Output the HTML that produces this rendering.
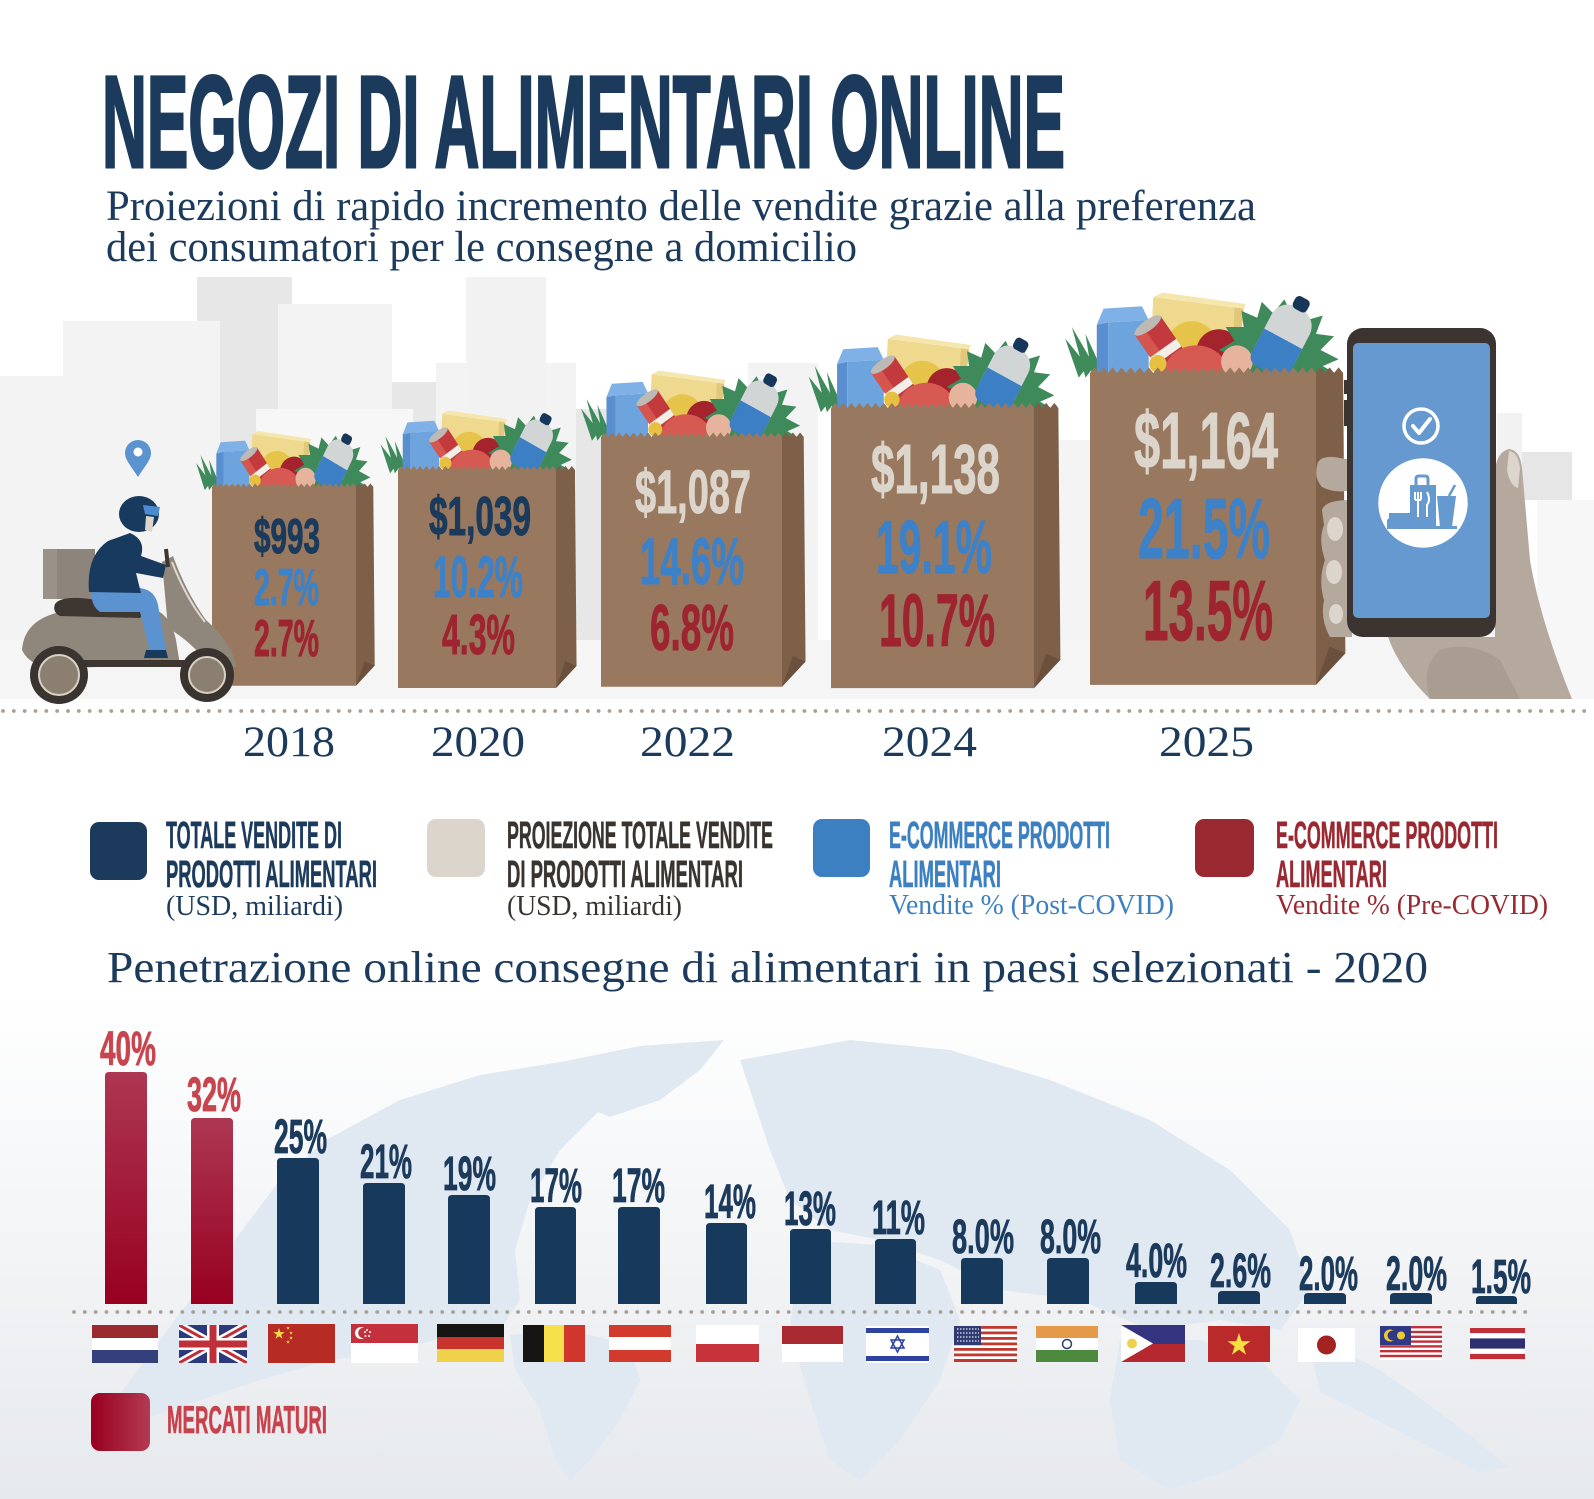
<!DOCTYPE html>
<html><head><meta charset="utf-8"><title>Negozi di alimentari online</title>
<style>
html,body{margin:0;padding:0;background:#fff;}
body{width:1594px;height:1499px;overflow:hidden;}
svg{display:block;}
.c{font-family:"Liberation Sans Narrow","Liberation Sans",Arial,sans-serif;font-weight:bold;}
.s{font-family:"Liberation Serif","Times New Roman",serif;}
</style></head>
<body>
<svg width="1594" height="1499" viewBox="0 0 1594 1499" xmlns="http://www.w3.org/2000/svg">
<defs>
  <linearGradient id="bg2" x1="0" y1="0" x2="0" y2="1">
    <stop offset="0" stop-color="#ffffff"/>
    <stop offset="1" stop-color="#e6e9ed"/>
  </linearGradient>
  <linearGradient id="redbar" x1="0" y1="0" x2="0" y2="1">
    <stop offset="0" stop-color="#ad3752"/>
    <stop offset="1" stop-color="#980020"/>
  </linearGradient>
  <linearGradient id="redbox" x1="0" y1="0" x2="1" y2="0">
    <stop offset="0" stop-color="#98001f"/>
    <stop offset="1" stop-color="#b33a52"/>
  </linearGradient>
  <polygon id="star" points="0,-1 0.2245,-0.309 0.951,-0.309 0.363,0.118 0.588,0.809 0,0.382 -0.588,0.809 -0.363,0.118 -0.951,-0.309 -0.2245,-0.309"/>
  <clipPath id="ukclip"><rect x="179" y="1325" width="68" height="38"/></clipPath>
  <g id="groc">
    <path fill="#3f8a5b" d="M-5 2 L-11 -15 L-1 -3 Z M-2 2 L-8 -20 L2 -3 Z M1 2 L-2 -17 L5 -2 Z M3 2 L4 -12 L7 0 Z"/>
    <path fill="#5a8fcf" d="M3 2 L3 -21 L8 -22 L8 2 Z"/>
    <path fill="#6ea4de" d="M8 -22 L26 -23 L26 2 L8 2 Z"/>
    <path fill="#7fb0e6" d="M3 -21 L6 -28 L23 -29 L26 -23 L8 -22 Z"/>
    <path fill="#eed98f" d="M28 -33 L68 -28 L66 -8 L27 -12 Z"/>
    <path fill="#e0c77a" d="M64 -28.5 L68 -28 L66 -8 L63 -8 Z"/>
    <path fill="#f5e6ad" d="M28 -33 L32 -35 L69 -30 L68 -28 Z"/>
    <circle cx="45" cy="-11" r="11.5" fill="#e6c44a"/>
    <circle cx="57" cy="-9" r="10" fill="#a5232d"/>
    <path fill="#3f8a5b" d="M60 2 L62 -8 L57 -10 L64 -14 L60 -20 L68 -20 L67 -27 L74 -24 L76 -31 L81 -26 L86 -32 L89 -26 L95 -30 L96 -23 L103 -25 L100 -17 L108 -16 L102 -10 L110 -6 L103 -3 L112 2 Z"/>
    <g transform="translate(33,-10) rotate(-35)">
      <rect x="-7" y="-13" width="14" height="24" fill="#c33a3e"/>
      <rect x="-7" y="-13" width="5" height="24" fill="#d4564f"/>
      <rect x="-7" y="-1" width="14" height="4" fill="#f2efe9"/>
      <ellipse cx="0" cy="-13" rx="7" ry="2.3" fill="#bdbab5"/>
    </g>
    <ellipse cx="47" cy="0" rx="14" ry="12" fill="#d65a52"/>
    <circle cx="65" cy="-5" r="7" fill="#e6b49c"/>
    <circle cx="30" cy="-4" r="3.8" fill="#e6c040"/>
    <g transform="translate(85,-14) rotate(28)">
      <rect x="-9.5" y="-16" width="19" height="31" rx="8" fill="#d2d5d6"/>
      <path d="M-9.5 -1 H9.5 V10 Q9.5 15 5 15 H-5 Q-9.5 15 -9.5 10 Z" fill="#3d7fc4"/>
      <rect x="-3.5" y="-21" width="7" height="6" rx="2" fill="#17375a"/>
    </g>
  </g>
  <g id="bag">
    <path fill="#98785e" d="M0 0 l2-2.5 2 2.5 2-2.5 2 2.5 2-2.5 2 2.5 2-2.5 2 2.5 2-2.5 2 2.5 2-2.5 2 2.5 2-2.5 2 2.5 2-2.5 2 2.5 2-2.5 2 2.5 2-2.5 2 2.5 2-2.5 2 2.5 2-2.5 2 2.5 2-2.5 2 2.5 2-2.5 2 2.5 2-2.5 2 2.5 2-2.5 2 2.5 2-2.5 2 2.5 2-2.5 2 2.5 2-2.5 2 2.5 2-2.5 2 2.5 2-2.5 2 2.5 2-2.5 2 2.5 2-2.5 2 2.5 2-2.5 2 2.5 2-2.5 2 2.5 V138 H0 Z"/>
    <path fill="#7e6049" d="M100 0 l2-2.5 2 2.5 2-2.5 2 2.5 2-2.5 2 2.5 L113 124 L100 138 Z"/>
    <path fill="#6a503d" d="M100 138 L106 121 L113 124 Z"/>
  </g>
</defs>

<!-- ===== TOP BACKGROUND ===== -->
<rect x="0" y="0" width="1594" height="990" fill="#ffffff"/>
<g>
  <rect x="197" y="277" width="95" height="422" fill="#e7e7e7"/>
  <rect x="392" y="382" width="44" height="317" fill="#e7e7e7"/>
  <rect x="576" y="409" width="30" height="290" fill="#e7e7e7"/>
  <rect x="1522" y="452" width="50" height="48" fill="#e6e6e6"/>
  <rect x="0" y="376" width="138" height="323" fill="#f3f3f3"/>
  <rect x="63" y="321" width="157" height="378" fill="#f3f3f3"/>
  <rect x="278" y="304" width="114" height="395" fill="#f3f3f3"/>
  <rect x="436" y="363" width="140" height="336" fill="#f3f3f3"/>
  <rect x="466" y="277" width="80" height="422" fill="#f2f2f2"/>
  <rect x="748" y="363" width="70" height="336" fill="#f3f3f3"/>
  <rect x="1058" y="440" width="34" height="259" fill="#f4f4f4"/>
  <rect x="1497" y="413" width="25" height="286" fill="#f2f2f2"/>
  <rect x="256" y="409" width="157" height="290" fill="#f7f7f7"/>
  <rect x="1340" y="600" width="254" height="99" fill="#f6f6f6"/>
  <rect x="1537" y="500" width="57" height="199" fill="#f7f7f7"/>
  <rect x="0" y="640" width="1540" height="59" fill="#f5f5f5"/>
</g>

<!-- ===== TITLE ===== -->
<text class="c" x="102" y="167" font-size="131" fill="#1b3a5c" stroke="#1b3a5c" stroke-width="3" textLength="963" lengthAdjust="spacingAndGlyphs">NEGOZI DI ALIMENTARI ONLINE</text>
<text class="s" x="106" y="220" font-size="43" fill="#1b3a5c" textLength="1150" lengthAdjust="spacingAndGlyphs">Proiezioni di rapido incremento delle vendite grazie alla preferenza</text>
<text class="s" x="106" y="261" font-size="43" fill="#1b3a5c" textLength="751" lengthAdjust="spacingAndGlyphs">dei consumatori per le consegne a domicilio</text>

<!-- ===== GROCERIES + BAGS ===== -->
<use href="#groc" transform="translate(212,487) scale(1.44,1.6)"/>
<use href="#bag" transform="translate(212,487) scale(1.44)"/>
<use href="#groc" transform="translate(398,470) scale(1.58,1.7)"/>
<use href="#bag" transform="translate(398,470) scale(1.58)"/>
<use href="#groc" transform="translate(601,437) scale(1.81,1.9)"/>
<use href="#bag" transform="translate(601,437) scale(1.81)"/>
<use href="#groc" transform="translate(831,408) scale(2.03,2.1)"/>
<use href="#bag" transform="translate(831,408) scale(2.03)"/>
<use href="#groc" transform="translate(1090,373) scale(2.26,2.3)"/>
<use href="#bag" transform="translate(1090,373) scale(2.26)"/>

<!-- bag texts -->
<g class="c" stroke-width="1">
  <text x="254" y="553" font-size="49" fill="#1b3a5c" stroke="#1b3a5c" textLength="66" lengthAdjust="spacingAndGlyphs">$993</text>
  <text x="254" y="605" font-size="52" fill="#3d82c8" stroke="#3d82c8" textLength="65" lengthAdjust="spacingAndGlyphs">2.7%</text>
  <text x="254" y="656" font-size="52" fill="#9e2530" stroke="#9e2530" textLength="65" lengthAdjust="spacingAndGlyphs">2.7%</text>

  <text x="429" y="535" font-size="55" fill="#1b3a5c" stroke="#1b3a5c" textLength="102" lengthAdjust="spacingAndGlyphs">$1,039</text>
  <text x="433" y="597" font-size="58" fill="#3d82c8" stroke="#3d82c8" textLength="90" lengthAdjust="spacingAndGlyphs">10.2%</text>
  <text x="442" y="654" font-size="57" fill="#9e2530" stroke="#9e2530" textLength="73" lengthAdjust="spacingAndGlyphs">4.3%</text>

  <text x="635" y="513" font-size="61" fill="#dcd5cb" stroke="#dcd5cb" textLength="116" lengthAdjust="spacingAndGlyphs">$1,087</text>
  <text x="640" y="584" font-size="66" fill="#3d82c8" stroke="#3d82c8" textLength="104" lengthAdjust="spacingAndGlyphs">14.6%</text>
  <text x="650" y="650" font-size="65" fill="#9e2530" stroke="#9e2530" textLength="84" lengthAdjust="spacingAndGlyphs">6.8%</text>

  <text x="871" y="493" font-size="70" fill="#dcd5cb" stroke="#dcd5cb" textLength="129" lengthAdjust="spacingAndGlyphs">$1,138</text>
  <text x="876" y="573" font-size="75" fill="#3d82c8" stroke="#3d82c8" textLength="116" lengthAdjust="spacingAndGlyphs">19.1%</text>
  <text x="879" y="646" font-size="74" fill="#9e2530" stroke="#9e2530" textLength="116" lengthAdjust="spacingAndGlyphs">10.7%</text>

  <text x="1134" y="468" font-size="80" fill="#dcd5cb" stroke="#dcd5cb" textLength="144" lengthAdjust="spacingAndGlyphs">$1,164</text>
  <text x="1138" y="558" font-size="85" fill="#3d82c8" stroke="#3d82c8" textLength="132" lengthAdjust="spacingAndGlyphs">21.5%</text>
  <text x="1143" y="640" font-size="85" fill="#9e2530" stroke="#9e2530" textLength="130" lengthAdjust="spacingAndGlyphs">13.5%</text>
</g>

<!-- ===== SCOOTER ===== -->
<path d="M138 477 C131 466 125 460 125 453 A13 13 0 1 1 151 453 C151 460 145 466 138 477 Z" fill="#5b93d0"/>
<circle cx="138" cy="452" r="4.5" fill="#ffffff"/>
<rect x="43" y="549" width="52" height="50" fill="#8d857b"/>
<rect x="43" y="549" width="14" height="50" fill="#9a9288"/>
<path fill="#8f877c" d="M22 650 Q24 620 60 612 L150 608 Q170 612 176 640 L180 665 L60 668 Q30 668 22 650 Z"/>
<path fill="#3d3631" d="M55 604 Q60 597 80 598 L140 604 Q146 612 140 618 L60 616 Q52 612 55 604 Z"/>
<path fill="#8f877c" d="M162 562 L173 556 Q186 592 206 620 Q233 644 236 667 L212 668 Q192 642 168 628 Z"/>
<path fill="none" stroke="#e0d9cf" stroke-width="2" d="M172 562 Q186 598 205 622"/>
<rect x="75" y="660" width="110" height="7" fill="#3d3631"/>
<circle cx="59" cy="675" r="29" fill="#3a3430"/>
<circle cx="59" cy="675" r="20" fill="#8a7f71" stroke="#d9d1c5" stroke-width="2"/>
<circle cx="207" cy="675" r="27" fill="#3a3430"/>
<circle cx="207" cy="675" r="18" fill="#8a7f71" stroke="#d9d1c5" stroke-width="2"/>
<path fill="#5b93d0" d="M92 590 L140 588 Q155 590 158 605 L166 650 L150 652 L140 612 L100 612 Q90 605 92 590 Z"/>
<path fill="#173a5e" d="M89 592 Q86 556 108 541 L130 533 Q146 540 141 556 L166 565 L163 578 L136 573 L141 593 Z"/>
<ellipse cx="139" cy="514" rx="20" ry="18" fill="#173a5e"/>
<path fill="#4d8bd0" d="M143 505 L160 507 L158 516 L145 514 Z"/>
<path fill="#ddd5ca" d="M146 516 L154 517 L152 532 L145 530 Z"/>
<path fill="#173a5e" d="M146 650 L166 650 L168 658 L144 658 Z"/>
<path stroke="#3d3631" stroke-width="4" fill="none" d="M166 549 L168 567"/>

<!-- ===== PHONE + HAND ===== -->
<path fill="#b4a99c" d="M1495 470 Q1497 452 1509 449 Q1520 450 1522 468 L1530 560 Q1540 620 1572 699 L1430 699 Q1400 670 1388 637 L1495 637 Z"/>
<path fill="#a89d90" d="M1430 699 Q1420 668 1440 650 Q1470 640 1500 660 L1520 699 Z"/>
<path fill="#dcd5cb" d="M1509 451 Q1518 452 1520 468 L1518 488 Q1510 486 1507 470 Z"/>
<path fill="#b4a99c" d="M1317 466 Q1318 456 1334 457 L1352 460 L1352 490 Q1336 494 1322 487 Q1314 478 1317 466 Z"/>
<path fill="#b4a99c" d="M1322 510 Q1325 500 1350 500 L1352 637 L1330 637 Q1320 620 1324 600 Q1318 580 1325 560 Q1318 540 1324 525 Z"/>
<ellipse cx="1335" cy="529" rx="8" ry="12" fill="#dcd5cb"/>
<ellipse cx="1334" cy="572" rx="8" ry="12" fill="#dcd5cb"/>
<ellipse cx="1336" cy="614" rx="7" ry="10" fill="#dcd5cb"/>
<rect x="1344" y="380" width="5" height="14" fill="#3b3431"/>
<rect x="1344" y="400" width="5" height="26" fill="#3b3431"/>
<rect x="1347" y="328" width="149" height="309" rx="16" fill="#3b3431"/>
<rect x="1353" y="343" width="137" height="275" rx="5" fill="#6699cf"/>
<circle cx="1421" cy="426" r="17" fill="none" stroke="#ffffff" stroke-width="3.5"/>
<path d="M1413 426 L1419 433 L1430 419" fill="none" stroke="#ffffff" stroke-width="4" stroke-linecap="round" stroke-linejoin="round"/>
<circle cx="1423" cy="503" r="44.7" fill="#ffffff"/>
<path fill="none" stroke="#6699cf" stroke-width="3" d="M1416 486 V479 Q1416 476 1419 476 H1425 Q1428 476 1428 479 V486"/>
<rect x="1410" y="485" width="26" height="42" fill="#6699cf"/>
<path stroke="#ffffff" stroke-width="2" fill="none" d="M1418 492 V517 M1415 492 V500 M1421 492 V500 M1415 500 H1421 M1427 492 Q1431 500 1427 505 V517"/>
<path fill="#6699cf" d="M1437 496 L1456 496 L1452 527 L1440 527 Z"/>
<path stroke="#6699cf" stroke-width="2.5" d="M1449 496 L1455 485"/>
<path fill="#6699cf" d="M1389 513 L1411 513 L1411 527 L1387 527 L1387 520 L1389 518 Z"/>
<rect x="1387" y="526" width="70" height="3" fill="#6699cf"/>

<!-- top dotted line -->
<line x1="3" y1="711" x2="1594" y2="711" stroke="#a9a095" stroke-width="3.8" stroke-linecap="round" stroke-dasharray="0 10.83"/>

<!-- years -->
<g class="s" font-size="43" fill="#1b3a5c">
  <text x="243" y="756" textLength="92" lengthAdjust="spacingAndGlyphs">2018</text>
  <text x="431" y="756" textLength="94" lengthAdjust="spacingAndGlyphs">2020</text>
  <text x="640" y="756" textLength="95" lengthAdjust="spacingAndGlyphs">2022</text>
  <text x="882" y="756" textLength="95" lengthAdjust="spacingAndGlyphs">2024</text>
  <text x="1159" y="756" textLength="95" lengthAdjust="spacingAndGlyphs">2025</text>
</g>

<!-- ===== LEGEND ===== -->
<rect x="90" y="822" width="57" height="58" rx="9" fill="#1b3a5c"/>
<text class="c" x="166" y="848" font-size="38" fill="#1b3a5c" stroke="#1b3a5c" stroke-width="0.6" textLength="176" lengthAdjust="spacingAndGlyphs">TOTALE VENDITE DI</text>
<text class="c" x="166" y="887" font-size="38" fill="#1b3a5c" stroke="#1b3a5c" stroke-width="0.6" textLength="211" lengthAdjust="spacingAndGlyphs">PRODOTTI ALIMENTARI</text>
<text class="s" x="166" y="915" font-size="28" fill="#1b3a5c" textLength="177" lengthAdjust="spacingAndGlyphs">(USD, miliardi)</text>

<rect x="427" y="819" width="58" height="58" rx="9" fill="#dcd5cb"/>
<text class="c" x="507" y="848" font-size="38" fill="#3a3431" stroke="#3a3431" stroke-width="0.6" textLength="266" lengthAdjust="spacingAndGlyphs">PROIEZIONE TOTALE VENDITE</text>
<text class="c" x="507" y="887" font-size="38" fill="#3a3431" stroke="#3a3431" stroke-width="0.6" textLength="236" lengthAdjust="spacingAndGlyphs">DI PRODOTTI ALIMENTARI</text>
<text class="s" x="507" y="915" font-size="28" fill="#3a3431" textLength="175" lengthAdjust="spacingAndGlyphs">(USD, miliardi)</text>

<rect x="813" y="819" width="57" height="58" rx="9" fill="#3d80c2"/>
<text class="c" x="889" y="848" font-size="38" fill="#3d80c2" stroke="#3d80c2" stroke-width="0.6" textLength="221" lengthAdjust="spacingAndGlyphs">E-COMMERCE PRODOTTI</text>
<text class="c" x="889" y="887" font-size="38" fill="#3d80c2" stroke="#3d80c2" stroke-width="0.6" textLength="112" lengthAdjust="spacingAndGlyphs">ALIMENTARI</text>
<text class="s" x="889" y="914" font-size="29" fill="#3d80c2" textLength="285" lengthAdjust="spacingAndGlyphs">Vendite % (Post-COVID)</text>

<rect x="1195" y="819" width="59" height="58" rx="9" fill="#9a2830"/>
<text class="c" x="1276" y="848" font-size="38" fill="#9a2830" stroke="#9a2830" stroke-width="0.6" textLength="222" lengthAdjust="spacingAndGlyphs">E-COMMERCE PRODOTTI</text>
<text class="c" x="1276" y="887" font-size="38" fill="#9a2830" stroke="#9a2830" stroke-width="0.6" textLength="111" lengthAdjust="spacingAndGlyphs">ALIMENTARI</text>
<text class="s" x="1276" y="914" font-size="29" fill="#9a2830" textLength="272" lengthAdjust="spacingAndGlyphs">Vendite % (Pre-COVID)</text>

<text class="s" x="107" y="982" font-size="44" fill="#1b3a5c" textLength="1321" lengthAdjust="spacingAndGlyphs">Penetrazione online consegne di alimentari in paesi selezionati - 2020</text>

<!-- ===== BOTTOM SECTION ===== -->
<rect x="0" y="995" width="1594" height="504" fill="url(#bg2)"/>
<g fill="#e0e8f1">
  <path d="M326 1140 L400 1100 L480 1075 L560 1062 L620 1070 L600 1110 L560 1150 L530 1200 L515 1250 L520 1300 L500 1330 L450 1335 L400 1350 L330 1360 L260 1380 L200 1400 L125 1425 L112 1405 L160 1340 L220 1260 L280 1180 Z"/>
  <path d="M561 1062 L640 1046 L724 1040 L700 1070 L660 1100 L610 1117 L570 1100 Z"/>
  <path d="M510 1335 L570 1330 L630 1345 L640 1380 L620 1420 L590 1460 L570 1480 L555 1460 L540 1410 L515 1370 Z"/>
  <path d="M740 1060 L850 1040 L950 1050 L1050 1080 L1150 1120 L1230 1170 L1290 1230 L1310 1290 L1280 1330 L1220 1320 L1150 1330 L1080 1300 L1000 1290 L940 1260 L880 1240 L830 1230 L790 1200 L770 1150 Z"/>
  <path d="M800 1240 L880 1245 L940 1270 L960 1320 L940 1380 L900 1440 L860 1480 L830 1460 L810 1400 L790 1330 Z"/>
  <path d="M1120 1340 L1200 1340 L1260 1360 L1300 1400 L1280 1440 L1230 1470 L1170 1490 L1120 1460 L1110 1400 Z"/>
  <path d="M1306 1333 L1380 1370 L1450 1420 L1509 1467 L1480 1472 L1400 1432 L1320 1392 Z"/>
</g>

<!-- bars -->
<path fill="url(#redbar)" d="M105 1304 V1076 Q105 1072 109 1072 H143 Q147 1072 147 1076 V1304 Z"/>
<path fill="url(#redbar)" d="M191 1304 V1122 Q191 1118 195 1118 H229 Q233 1118 233 1122 V1304 Z"/>
<g fill="#173a5c">
  <path d="M277 1304 V1162 Q277 1158 281 1158 H315 Q319 1158 319 1162 V1304 Z"/>
  <path d="M363 1304 V1187 Q363 1183 367 1183 H401 Q405 1183 405 1187 V1304 Z"/>
  <path d="M448 1304 V1199 Q448 1195 452 1195 H486 Q490 1195 490 1199 V1304 Z"/>
  <path d="M535 1304 V1211 Q535 1207 539 1207 H572 Q576 1207 576 1211 V1304 Z"/>
  <path d="M618 1304 V1211 Q618 1207 622 1207 H656 Q660 1207 660 1211 V1304 Z"/>
  <path d="M706 1304 V1227 Q706 1223 710 1223 H743 Q747 1223 747 1227 V1304 Z"/>
  <path d="M790 1304 V1233 Q790 1229 794 1229 H827 Q831 1229 831 1233 V1304 Z"/>
  <path d="M875 1304 V1243 Q875 1239 879 1239 H912 Q916 1239 916 1243 V1304 Z"/>
  <path d="M961 1304 V1262 Q961 1258 965 1258 H999 Q1003 1258 1003 1262 V1304 Z"/>
  <path d="M1047 1304 V1262 Q1047 1258 1051 1258 H1085 Q1089 1258 1089 1262 V1304 Z"/>
  <path d="M1135 1304 V1286 Q1135 1282 1139 1282 H1173 Q1177 1282 1177 1286 V1304 Z"/>
  <path d="M1218 1304 V1295 Q1218 1291 1222 1291 H1256 Q1260 1291 1260 1295 V1304 Z"/>
  <path d="M1304 1304 V1297 Q1304 1293 1308 1293 H1342 Q1346 1293 1346 1297 V1304 Z"/>
  <path d="M1390 1304 V1297 Q1390 1293 1394 1293 H1428 Q1432 1293 1432 1297 V1304 Z"/>
  <path d="M1476 1304 V1300 Q1476 1296 1480 1296 H1513 Q1517 1296 1517 1300 V1304 Z"/>
</g>

<!-- bar labels -->
<g class="c" font-size="48" stroke-width="0.8">
  <text x="100" y="1065" fill="#c8444e" stroke="#c8444e" textLength="56" lengthAdjust="spacingAndGlyphs">40%</text>
  <text x="187" y="1111" fill="#c8444e" stroke="#c8444e" textLength="54" lengthAdjust="spacingAndGlyphs">32%</text>
  <g fill="#1b3a5c" stroke="#1b3a5c">
    <text x="274" y="1153" textLength="53" lengthAdjust="spacingAndGlyphs">25%</text>
    <text x="360" y="1178" textLength="52" lengthAdjust="spacingAndGlyphs">21%</text>
    <text x="443" y="1190" textLength="53" lengthAdjust="spacingAndGlyphs">19%</text>
    <text x="530" y="1202" textLength="52" lengthAdjust="spacingAndGlyphs">17%</text>
    <text x="612" y="1202" textLength="53" lengthAdjust="spacingAndGlyphs">17%</text>
    <text x="704" y="1218" textLength="52" lengthAdjust="spacingAndGlyphs">14%</text>
    <text x="784" y="1225" textLength="52" lengthAdjust="spacingAndGlyphs">13%</text>
    <text x="872" y="1234" textLength="53" lengthAdjust="spacingAndGlyphs">11%</text>
    <text x="952" y="1253" textLength="62" lengthAdjust="spacingAndGlyphs">8.0%</text>
    <text x="1040" y="1253" textLength="61" lengthAdjust="spacingAndGlyphs">8.0%</text>
    <text x="1126" y="1277" textLength="61" lengthAdjust="spacingAndGlyphs">4.0%</text>
    <text x="1210" y="1287" textLength="61" lengthAdjust="spacingAndGlyphs">2.6%</text>
    <text x="1299" y="1290" textLength="59" lengthAdjust="spacingAndGlyphs">2.0%</text>
    <text x="1386" y="1290" textLength="61" lengthAdjust="spacingAndGlyphs">2.0%</text>
    <text x="1471" y="1293" textLength="60" lengthAdjust="spacingAndGlyphs">1.5%</text>
  </g>
</g>

<!-- bottom dotted line -->
<line x1="74" y1="1312" x2="1528" y2="1312" stroke="#a9a095" stroke-width="3.8" stroke-linecap="round" stroke-dasharray="0 10.83"/>

<!-- ===== FLAGS ===== -->
<rect x="92" y="1325" width="66" height="13" fill="#9b2a30"/>
<rect x="92" y="1338" width="66" height="12" fill="#ffffff"/>
<rect x="92" y="1350" width="66" height="13" fill="#353f7e"/>
<g clip-path="url(#ukclip)">
  <rect x="179" y="1325" width="68" height="38" fill="#2b3a7c"/>
  <path d="M179 1325 L247 1363 M247 1325 L179 1363" stroke="#ffffff" stroke-width="8"/>
  <path d="M179 1325 L247 1363 M247 1325 L179 1363" stroke="#c0303a" stroke-width="3"/>
  <path d="M213 1325 V1363 M179 1344 H247" stroke="#ffffff" stroke-width="12"/>
  <path d="M213 1325 V1363 M179 1344 H247" stroke="#c0303a" stroke-width="7"/>
</g>
<rect x="268" y="1324" width="67" height="39" fill="#b72b25"/>
<use href="#star" fill="#f3d84a" transform="translate(279,1334) scale(6)"/>
<use href="#star" fill="#f3d84a" transform="translate(288,1328) scale(2)"/>
<use href="#star" fill="#f3d84a" transform="translate(291,1333) scale(2)"/>
<use href="#star" fill="#f3d84a" transform="translate(291,1338) scale(2)"/>
<use href="#star" fill="#f3d84a" transform="translate(288,1342) scale(2)"/>
<rect x="351" y="1324" width="67" height="19" fill="#c5303d"/>
<rect x="351" y="1343" width="67" height="20" fill="#ffffff"/>
<circle cx="361" cy="1333" r="6" fill="#ffffff"/>
<circle cx="363.5" cy="1333" r="5.3" fill="#c5303d"/>
<circle cx="367" cy="1330" r="1" fill="#ffffff"/>
<circle cx="370" cy="1332" r="1" fill="#ffffff"/>
<circle cx="369" cy="1336" r="1" fill="#ffffff"/>
<circle cx="365.5" cy="1336" r="1" fill="#ffffff"/>
<circle cx="365" cy="1332" r="1" fill="#ffffff"/>
<rect x="437" y="1324" width="67" height="13" fill="#151412"/>
<rect x="437" y="1337" width="67" height="12" fill="#c8332b"/>
<rect x="437" y="1349" width="67" height="13" fill="#f0d14a"/>
<rect x="523" y="1325" width="21" height="37" fill="#151412"/>
<rect x="544" y="1325" width="20" height="37" fill="#f6e04b"/>
<rect x="564" y="1325" width="21" height="37" fill="#d1362c"/>
<rect x="609" y="1325" width="62" height="12" fill="#d13a2c"/>
<rect x="609" y="1337" width="62" height="13" fill="#ffffff"/>
<rect x="609" y="1350" width="62" height="12" fill="#d13a2c"/>
<rect x="696" y="1325" width="63" height="19" fill="#ffffff"/>
<rect x="696" y="1344" width="63" height="18" fill="#c8333b"/>
<rect x="782" y="1326" width="61" height="18" fill="#a8292f"/>
<rect x="782" y="1344" width="61" height="18" fill="#ffffff"/>
<rect x="866" y="1326" width="63" height="37" fill="#ffffff"/>
<rect x="866" y="1328" width="63" height="5" fill="#2e43a0"/>
<rect x="866" y="1356" width="63" height="5" fill="#2e43a0"/>
<path d="M897.5 1336 L904 1348 L891 1348 Z M897.5 1352 L904 1340 L891 1340 Z" fill="none" stroke="#2e43a0" stroke-width="1.5"/>
<rect x="954" y="1326" width="63" height="36" fill="#ffffff"/>
<g fill="#c0392f">
  <rect x="954" y="1326" width="63" height="2.8"/>
  <rect x="954" y="1331.5" width="63" height="2.8"/>
  <rect x="954" y="1337" width="63" height="2.8"/>
  <rect x="954" y="1342.5" width="63" height="2.8"/>
  <rect x="954" y="1348" width="63" height="2.8"/>
  <rect x="954" y="1353.5" width="63" height="2.8"/>
  <rect x="954" y="1359" width="63" height="3"/>
</g>
<rect x="954" y="1326" width="27" height="19" fill="#2f3b73"/>
<path d="M957 1329 H979 M957 1333 H979 M957 1337 H979 M957 1341 H979" stroke="#c9ccd8" stroke-width="1.5" stroke-dasharray="1.5 1.5"/>
<rect x="1036" y="1326" width="62" height="12" fill="#e59a4a"/>
<rect x="1036" y="1338" width="62" height="12" fill="#ffffff"/>
<rect x="1036" y="1350" width="62" height="12" fill="#4d8a3e"/>
<circle cx="1067" cy="1344" r="4.5" fill="none" stroke="#2f3b73" stroke-width="1.5"/>
<rect x="1121" y="1325" width="64" height="19" fill="#33337f"/>
<rect x="1121" y="1344" width="64" height="18" fill="#b5282f"/>
<path d="M1121 1325 L1153 1343.5 L1121 1362 Z" fill="#ffffff"/>
<circle cx="1132" cy="1343.5" r="5" fill="#f0d050"/>
<rect x="1208" y="1326" width="62" height="36" fill="#bb2a2a"/>
<use href="#star" fill="#f5e040" transform="translate(1239,1345) scale(12)"/>
<rect x="1298" y="1328" width="57" height="34" fill="#ffffff"/>
<circle cx="1326.5" cy="1345" r="9.5" fill="#a2231f"/>
<rect x="1380" y="1326" width="62" height="34" fill="#ffffff"/>
<g fill="#c0303a">
  <rect x="1380" y="1326" width="62" height="2.4"/>
  <rect x="1380" y="1330.8" width="62" height="2.4"/>
  <rect x="1380" y="1335.6" width="62" height="2.4"/>
  <rect x="1380" y="1340.4" width="62" height="2.4"/>
  <rect x="1380" y="1345.2" width="62" height="2.4"/>
  <rect x="1380" y="1350" width="62" height="2.4"/>
  <rect x="1380" y="1354.8" width="62" height="2.4"/>
</g>
<rect x="1380" y="1326" width="31" height="19" fill="#2f3a86"/>
<circle cx="1390" cy="1335.5" r="6" fill="#f0c93a"/>
<circle cx="1392.5" cy="1335.5" r="5" fill="#2f3a86"/>
<circle cx="1401" cy="1335.5" r="4" fill="#f0c93a"/>
<rect x="1470" y="1328" width="55" height="5.2" fill="#c0303a"/>
<rect x="1470" y="1333.2" width="55" height="5.2" fill="#ffffff"/>
<rect x="1470" y="1338.4" width="55" height="10.3" fill="#2e2f6e"/>
<rect x="1470" y="1348.7" width="55" height="5.2" fill="#ffffff"/>
<rect x="1470" y="1353.9" width="55" height="5.2" fill="#c0303a"/>

<!-- MERCATI MATURI legend -->
<rect x="91" y="1393" width="59" height="58" rx="9" fill="url(#redbox)"/>
<text class="c" x="167" y="1433" font-size="39" fill="#c8414b" stroke="#c8414b" stroke-width="0.6" textLength="160" lengthAdjust="spacingAndGlyphs">MERCATI MATURI</text>
</svg>
</body></html>
